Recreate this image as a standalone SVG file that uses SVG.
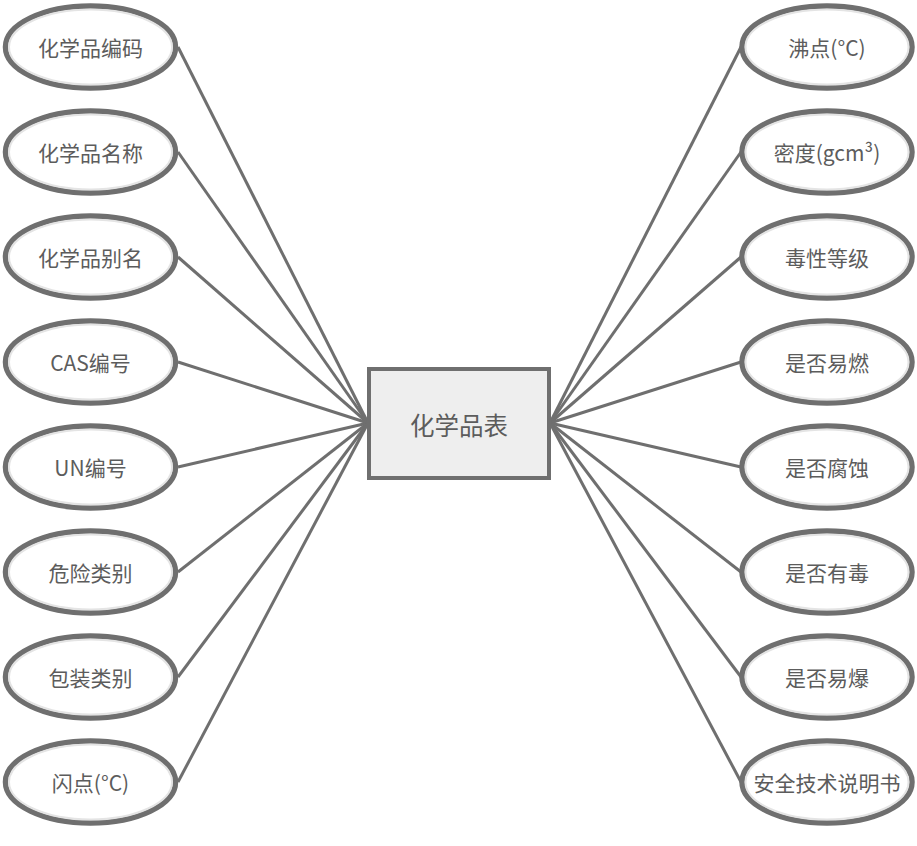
<svg xmlns="http://www.w3.org/2000/svg" width="917" height="846" viewBox="0 0 917 846">
<style>
.e{fill:#ffffff;stroke:#6f6f6f;stroke-width:5.5}
.g{fill:none;stroke:#e4e4e4;stroke-width:2}
.t{font-family:"Noto Sans CJK SC","Microsoft YaHei",sans-serif;font-size:21px;fill:#5c5c5c;text-anchor:middle;dominant-baseline:central}
.c{stroke:#6f6f6f;stroke-width:3;fill:none}
</style>
<rect width="917" height="846" fill="#ffffff"/>
<g id="connectors">
<line class="c" x1="178" y1="47" x2="368" y2="423"/>
<line class="c" x1="178" y1="152" x2="368" y2="423"/>
<line class="c" x1="178" y1="257" x2="368" y2="423"/>
<line class="c" x1="178" y1="362" x2="368" y2="423"/>
<line class="c" x1="178" y1="467" x2="368" y2="423"/>
<line class="c" x1="178" y1="572" x2="368" y2="423"/>
<line class="c" x1="178" y1="677" x2="368" y2="423"/>
<line class="c" x1="178" y1="782" x2="368" y2="423"/>
<line class="c" x1="741" y1="47" x2="550" y2="423"/>
<line class="c" x1="741" y1="152" x2="550" y2="423"/>
<line class="c" x1="741" y1="257" x2="550" y2="423"/>
<line class="c" x1="741" y1="362" x2="550" y2="423"/>
<line class="c" x1="741" y1="467" x2="550" y2="423"/>
<line class="c" x1="741" y1="572" x2="550" y2="423"/>
<line class="c" x1="741" y1="677" x2="550" y2="423"/>
<line class="c" x1="741" y1="782" x2="550" y2="423"/>
</g>
<g id="center">
<rect x="369" y="369" width="180" height="109" fill="#eeeeee" stroke="#6f6f6f" stroke-width="4"/>
<text x="459" y="424" class="t" style="font-size:24.5px">化学品表</text>
</g>
<g id="n1"><ellipse class="e" cx="90.5" cy="47" rx="85" ry="41"/><ellipse class="g" cx="90.5" cy="47" rx="81.5" ry="37.5"/><text class="t" x="90.5" y="47">化学品编码</text></g>
<g id="n2"><ellipse class="e" cx="90.5" cy="152" rx="85" ry="41"/><ellipse class="g" cx="90.5" cy="152" rx="81.5" ry="37.5"/><text class="t" x="90.5" y="152">化学品名称</text></g>
<g id="n3"><ellipse class="e" cx="90.5" cy="257" rx="85" ry="41"/><ellipse class="g" cx="90.5" cy="257" rx="81.5" ry="37.5"/><text class="t" x="90.5" y="257">化学品别名</text></g>
<g id="n4"><ellipse class="e" cx="90.5" cy="362" rx="85" ry="41"/><ellipse class="g" cx="90.5" cy="362" rx="81.5" ry="37.5"/><text class="t" x="90.5" y="362">CAS编号</text></g>
<g id="n5"><ellipse class="e" cx="90.5" cy="467" rx="85" ry="41"/><ellipse class="g" cx="90.5" cy="467" rx="81.5" ry="37.5"/><text class="t" x="90.5" y="467">UN编号</text></g>
<g id="n6"><ellipse class="e" cx="90.5" cy="572" rx="85" ry="41"/><ellipse class="g" cx="90.5" cy="572" rx="81.5" ry="37.5"/><text class="t" x="90.5" y="572">危险类别</text></g>
<g id="n7"><ellipse class="e" cx="90.5" cy="677" rx="85" ry="41"/><ellipse class="g" cx="90.5" cy="677" rx="81.5" ry="37.5"/><text class="t" x="90.5" y="677">包装类别</text></g>
<g id="n8"><ellipse class="e" cx="90.5" cy="782" rx="85" ry="41"/><ellipse class="g" cx="90.5" cy="782" rx="81.5" ry="37.5"/><text class="t" x="90.5" y="782">闪点(°C)</text></g>
<g id="n9"><ellipse class="e" cx="827" cy="47" rx="85" ry="41"/><ellipse class="g" cx="827" cy="47" rx="81.5" ry="37.5"/><text class="t" x="827" y="47">沸点(°C)</text></g>
<g id="n10"><ellipse class="e" cx="827" cy="152" rx="85" ry="41"/><ellipse class="g" cx="827" cy="152" rx="81.5" ry="37.5"/><text class="t" x="827" y="152">密度(gcm³)</text></g>
<g id="n11"><ellipse class="e" cx="827" cy="257" rx="85" ry="41"/><ellipse class="g" cx="827" cy="257" rx="81.5" ry="37.5"/><text class="t" x="827" y="257">毒性等级</text></g>
<g id="n12"><ellipse class="e" cx="827" cy="362" rx="85" ry="41"/><ellipse class="g" cx="827" cy="362" rx="81.5" ry="37.5"/><text class="t" x="827" y="362">是否易燃</text></g>
<g id="n13"><ellipse class="e" cx="827" cy="467" rx="85" ry="41"/><ellipse class="g" cx="827" cy="467" rx="81.5" ry="37.5"/><text class="t" x="827" y="467">是否腐蚀</text></g>
<g id="n14"><ellipse class="e" cx="827" cy="572" rx="85" ry="41"/><ellipse class="g" cx="827" cy="572" rx="81.5" ry="37.5"/><text class="t" x="827" y="572">是否有毒</text></g>
<g id="n15"><ellipse class="e" cx="827" cy="677" rx="85" ry="41"/><ellipse class="g" cx="827" cy="677" rx="81.5" ry="37.5"/><text class="t" x="827" y="677">是否易爆</text></g>
<g id="n16"><ellipse class="e" cx="827" cy="782" rx="85" ry="41"/><ellipse class="g" cx="827" cy="782" rx="81.5" ry="37.5"/><text class="t" x="827" y="782">安全技术说明书</text></g>
</svg>
